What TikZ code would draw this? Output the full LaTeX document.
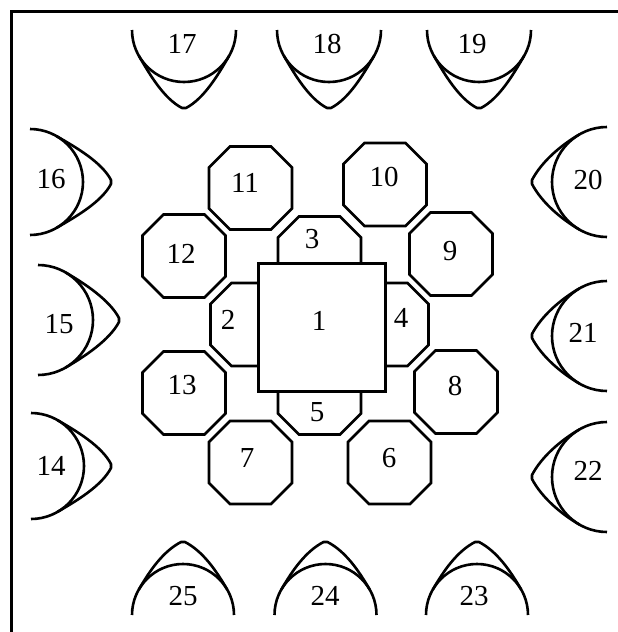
\documentclass[tikz,border=0pt]{standalone}
\usepackage{fontspec}
\setmainfont{Liberation Serif}
\tikzset{
  octline/.style={draw, line width=2.6pt, fill=white, line join=miter},
  sq/.style={draw, line width=2.6pt, rectangle, minimum width=127pt, minimum height=128pt, fill=white, inner sep=0pt},
  lbl/.style={font=\fontsize{29}{30}\selectfont, inner sep=0pt},
  crline/.style={line width=2.6pt, line join=round},
  frameline/.style={line width=3pt}
}
% octagon: #1 name, #2,#3 centre
\newcommand{\octagon}[3]{%
  \coordinate (#1) at (#2,#3);
  \path[octline,shift={(#1)}] (-41.5,-20.5) -- (-20.5,-41.5) -- (20.5,-41.5) -- (41.5,-20.5)
    -- (41.5,20.5) -- (20.5,41.5) -- (-20.5,41.5) -- (-41.5,20.5) -- cycle;}
% #1,#2 centre of the arc, #3 rotation, #4 radius, #5 distance of the tip
\newcommand{\crescentshape}[5]{%
  \begin{scope}[shift={(#1,#2)},rotate=#3]
    \draw[crline] (180:#4) arc[start angle=180,end angle=0,radius=#4];
    \draw[crline] (150:#4) .. controls ({-0.866*#4+11},{0.5*#4+19}) and (-20,{#5-9.4}) .. (-2,#5)
      -- (2,#5) .. controls (20,{#5-9.4}) and ({0.866*#4-11},{0.5*#4+19}) .. (30:#4);
  \end{scope}}
\begin{document}
\begin{tikzpicture}[x=1pt,y=-1pt]
\useasboundingbox (0,0) rectangle (618,632);
\draw[frameline] (11,632) -- (11,11) -- (618,11);
% crescents top
\crescentshape{184}{30}{0}{52}{78}
\crescentshape{329}{30}{0}{52}{78}
\crescentshape{479}{30}{0}{52}{78}
% bottom
\crescentshape{183}{615}{180}{51}{73}
\crescentshape{325.5}{615}{180}{51}{73}
\crescentshape{477}{615}{180}{51}{73}
% left
\crescentshape{30}{182}{90}{53}{81}
\crescentshape{38}{320}{90}{55}{81}
\crescentshape{31}{466}{90}{53}{80}
% right
\crescentshape{607}{182}{-90}{55}{75}
\crescentshape{607}{336}{-90}{55}{75}
\crescentshape{607}{477}{-90}{55}{75}
% inner octagons
\octagon{o2}{252}{324.5}
\octagon{o3}{319.5}{258}
\octagon{o4}{387}{324.5}
\octagon{o5}{319.5}{393}
\node[sq] (s1) at (322,327.5) {};
% outer octagons
\octagon{o6}{389.5}{462.5}
\octagon{o7}{250.5}{462.5}
\octagon{o8}{456}{392}
\octagon{o9}{451}{254}
\octagon{o10}{385}{184.5}
\octagon{o11}{250.5}{188}
\octagon{o12}{184}{256}
\octagon{o13}{184}{393}
% labels
\node[lbl] (t1) at (319,321) {1};
\node[lbl] (t2) at (228,320) {2};
\node[lbl] (t3) at (312,239) {3};
\node[lbl] (t4) at (401,318) {4};
\node[lbl] (t5) at (317,412) {5};
\node[lbl] (t6) at (389,458) {6};
\node[lbl] (t7) at (247,458) {7};
\node[lbl] (t8) at (455,386) {8};
\node[lbl] (t9) at (450,251) {9};
\node[lbl] (t10) at (384,177) {10};
\node[lbl] (t11) at (245,183) {11};
\node[lbl] (t12) at (181,254) {12};
\node[lbl] (t13) at (182,385) {13};
\node[lbl] (t14) at (51,466) {14};
\node[lbl] (t15) at (59,324) {15};
\node[lbl] (t16) at (51,179) {16};
\node[lbl] (t17) at (182,44) {17};
\node[lbl] (t18) at (327,44) {18};
\node[lbl] (t19) at (472,44) {19};
\node[lbl] (t20) at (588,180) {20};
\node[lbl] (t21) at (583,333) {21};
\node[lbl] (t22) at (588,471) {22};
\node[lbl] (t23) at (474,596) {23};
\node[lbl] (t24) at (325,596) {24};
\node[lbl] (t25) at (183,596) {25};
\end{tikzpicture}
\end{document}
